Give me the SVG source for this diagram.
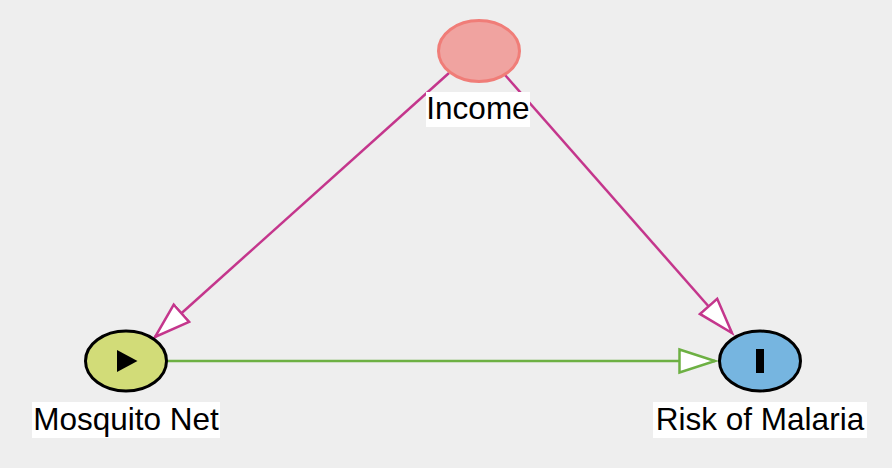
<svg xmlns="http://www.w3.org/2000/svg" width="892" height="468" viewBox="0 0 892 468">
<style>
.lbl{font-family:"Liberation Sans",Arial,Helvetica,sans-serif;font-size:31.5px;fill:#000;text-anchor:middle}
.lblbg{fill:#ffffff}
.e{stroke-width:2.5;fill:none}
.mag{stroke:#c4368c}
.grn{stroke:#6db043}
.node{stroke:#000;stroke-width:3}
</style>
<defs>
<marker id="amag" markerUnits="userSpaceOnUse" markerWidth="44" markerHeight="30" refX="37" refY="14" orient="auto">
<path d="M1.5,2.5 L37,14 L1.5,25.5 Z" fill="#fff" stroke="#c4368c" stroke-width="2.5" stroke-linejoin="miter"/>
</marker>
<marker id="agrn" markerUnits="userSpaceOnUse" markerWidth="44" markerHeight="30" refX="37" refY="14" orient="auto">
<path d="M1.5,2.5 L37,14 L1.5,25.5 Z" fill="#fff" stroke="#6db043" stroke-width="2.5" stroke-linejoin="miter"/>
</marker>
</defs>
<rect width="892" height="468" fill="#eeeeee"/>
<g id="connectors">
<line class="e mag" x1="449" y1="73" x2="155" y2="337" marker-end="url(#amag)"/>
<line class="e mag" x1="505" y1="75" x2="732" y2="333" marker-end="url(#amag)"/>
<line class="e grn" x1="167" y1="361" x2="715" y2="361" marker-end="url(#agrn)"/>
</g>
<g id="income">
<ellipse cx="479" cy="51" rx="40.5" ry="30.5" fill="#f0a3a0" stroke="#f07d78" stroke-width="3"/>
<rect class="lblbg" x="426" y="92" width="104" height="35"/>
<text class="lbl" x="478" y="119">Income</text>
</g>
<g id="mosquito-net">
<ellipse class="node" cx="126" cy="361" rx="40.5" ry="30" fill="#d2dc78"/>
<path d="M117,350 L137.5,361 L117,372 Z" fill="#000"/>
<rect class="lblbg" x="32" y="402" width="188" height="36"/>
<text class="lbl" x="126" y="430">Mosquito Net</text>
</g>
<g id="risk-of-malaria">
<ellipse class="node" cx="760" cy="361" rx="40.5" ry="30" fill="#76b5e0"/>
<rect x="756" y="349" width="8" height="24" fill="#000"/>
<rect class="lblbg" x="653" y="402" width="214" height="36"/>
<text class="lbl" x="760" y="430">Risk of Malaria</text>
</g>
</svg>
